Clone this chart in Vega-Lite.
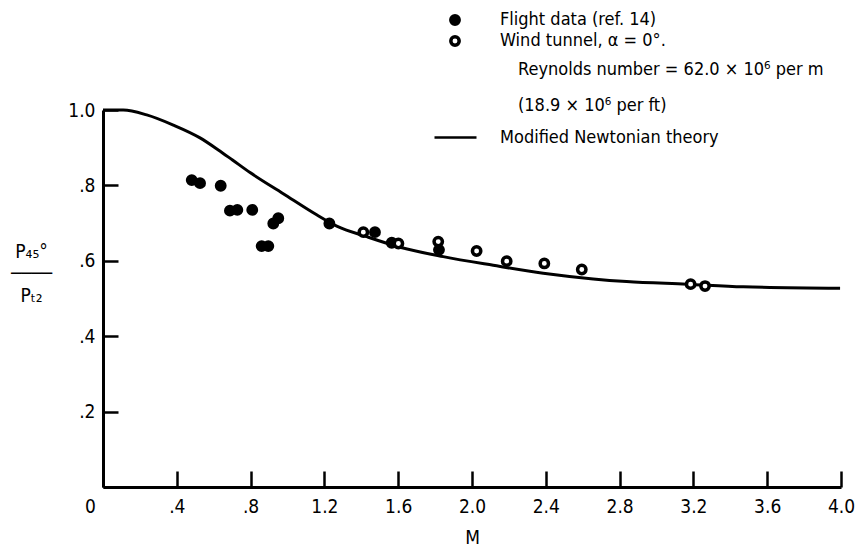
{
  "$schema": "https://vega.github.io/schema/vega-lite/v6.json",
  "width": 738,
  "height": 377,
  "autosize": {"type": "none"},
  "padding": {"left": 103, "top": 110, "right": 21, "bottom": 60},
  "background": "white",
  "title": {
    "text": ["Reynolds number = 62.0 × 10⁶ per m", "(18.9 × 10⁶ per ft)"],
    "anchor": "start",
    "frame": "group",
    "orient": "top",
    "align": "left",
    "baseline": "top",
    "offset": 0,
    "dx": 415,
    "dy": 104,
    "lineHeight": 36,
    "fontSize": 18,
    "fontWeight": "normal",
    "color": "black",
    "font": "Liberation Sans Narrow, DejaVu Sans Condensed, sans-serif"
  },
  "config": {
    "view": {"stroke": null},
    "font": "Liberation Sans Narrow, DejaVu Sans Condensed, sans-serif",
    "axis": {"grid": false, "domainColor": "black", "domainWidth": 3, "tickColor": "black", "tickWidth": 2.5, "labelColor": "black", "titleColor": "black", "labelFontSize": 19, "titleFontSize": 19, "titleFontWeight": "normal", "labelFont": "Liberation Sans Narrow, DejaVu Sans Condensed, sans-serif", "titleFont": "Liberation Sans Narrow, DejaVu Sans Condensed, sans-serif"},
    "legend": {"labelFontSize": 18, "labelColor": "black", "labelFont": "Liberation Sans Narrow, DejaVu Sans Condensed, sans-serif", "labelLimit": 0}
  },
  "datasets": {
    "points": [
      {"M": 0.481, "P": 0.814, "dataset": "Flight data (ref. 14)"},
      {"M": 0.526, "P": 0.806, "dataset": "Flight data (ref. 14)"},
      {"M": 0.638, "P": 0.799, "dataset": "Flight data (ref. 14)"},
      {"M": 0.688, "P": 0.733, "dataset": "Flight data (ref. 14)"},
      {"M": 0.728, "P": 0.735, "dataset": "Flight data (ref. 14)"},
      {"M": 0.809, "P": 0.735, "dataset": "Flight data (ref. 14)"},
      {"M": 0.860, "P": 0.639, "dataset": "Flight data (ref. 14)"},
      {"M": 0.896, "P": 0.639, "dataset": "Flight data (ref. 14)"},
      {"M": 0.923, "P": 0.699, "dataset": "Flight data (ref. 14)"},
      {"M": 0.950, "P": 0.713, "dataset": "Flight data (ref. 14)"},
      {"M": 1.227, "P": 0.699, "dataset": "Flight data (ref. 14)"},
      {"M": 1.474, "P": 0.676, "dataset": "Flight data (ref. 14)"},
      {"M": 1.565, "P": 0.648, "dataset": "Flight data (ref. 14)"},
      {"M": 1.821, "P": 0.629, "dataset": "Flight data (ref. 14)"},
      {"M": 1.411, "P": 0.676, "dataset": "Wind tunnel,  α = 0°."},
      {"M": 1.601, "P": 0.646, "dataset": "Wind tunnel,  α = 0°."},
      {"M": 1.817, "P": 0.651, "dataset": "Wind tunnel,  α = 0°."},
      {"M": 2.025, "P": 0.626, "dataset": "Wind tunnel,  α = 0°."},
      {"M": 2.188, "P": 0.599, "dataset": "Wind tunnel,  α = 0°."},
      {"M": 2.392, "P": 0.593, "dataset": "Wind tunnel,  α = 0°."},
      {"M": 2.595, "P": 0.577, "dataset": "Wind tunnel,  α = 0°."},
      {"M": 3.185, "P": 0.538, "dataset": "Wind tunnel,  α = 0°."},
      {"M": 3.263, "P": 0.533, "dataset": "Wind tunnel,  α = 0°."}
    ],
    "curve": [
      {"M": 0.0, "P": 1.0, "theory": "Modified Newtonian theory"},
      {"M": 0.110, "P": 1.0, "theory": "Modified Newtonian theory"},
      {"M": 0.237, "P": 0.987, "theory": "Modified Newtonian theory"},
      {"M": 0.381, "P": 0.960, "theory": "Modified Newtonian theory"},
      {"M": 0.526, "P": 0.926, "theory": "Modified Newtonian theory"},
      {"M": 0.625, "P": 0.894, "theory": "Modified Newtonian theory"},
      {"M": 0.700, "P": 0.868, "theory": "Modified Newtonian theory"},
      {"M": 0.797, "P": 0.834, "theory": "Modified Newtonian theory"},
      {"M": 0.977, "P": 0.778, "theory": "Modified Newtonian theory"},
      {"M": 1.158, "P": 0.722, "theory": "Modified Newtonian theory"},
      {"M": 1.267, "P": 0.692, "theory": "Modified Newtonian theory"},
      {"M": 1.429, "P": 0.664, "theory": "Modified Newtonian theory"},
      {"M": 1.610, "P": 0.636, "theory": "Modified Newtonian theory"},
      {"M": 1.844, "P": 0.611, "theory": "Modified Newtonian theory"},
      {"M": 2.115, "P": 0.588, "theory": "Modified Newtonian theory"},
      {"M": 2.386, "P": 0.567, "theory": "Modified Newtonian theory"},
      {"M": 2.657, "P": 0.552, "theory": "Modified Newtonian theory"},
      {"M": 2.838, "P": 0.545, "theory": "Modified Newtonian theory"},
      {"M": 3.164, "P": 0.538, "theory": "Modified Newtonian theory"},
      {"M": 3.470, "P": 0.531, "theory": "Modified Newtonian theory"},
      {"M": 3.995, "P": 0.527, "theory": "Modified Newtonian theory"}
    ]
  },
  "layer": [
    {
      "data": {"name": "curve"},
      "mark": {"type": "line", "color": "black", "strokeWidth": 3, "interpolate": "monotone"},
      "encoding": {
        "x": {
          "field": "M", "type": "quantitative",
          "scale": {"domain": [0, 4], "nice": false, "zero": false},
          "axis": {
            "title": "M",
            "values": [0, 0.4, 0.8, 1.2, 1.6, 2, 2.4, 2.8, 3.2, 3.6, 4],
            "labelExpr": "datum.value === 0 ? '0' : (datum.value < 1 ? replace(format(datum.value, '.1f'), '0.', '.') : format(datum.value, '.1f'))",
            "tickSize": -16,
            "labelPadding": 26,
            "labelFlush": false,
            "labelOffset": {"condition": {"test": "datum.value === 0", "value": -13}, "value": 0},
            "titleY": 50,
            "titleBaseline": "middle"
          }
        },
        "y": {
          "field": "P", "type": "quantitative",
          "scale": {"domain": [0, 1], "nice": false, "zero": false},
          "axis": {
            "title": ["P₄₅°", "────", "Pₜ₂"],
            "titleAngle": 0,
            "titleAlign": "center",
            "titleBaseline": "middle",
            "titleLineHeight": 22,
            "titleX": -72,
            "titleY": 141,
            "values": [0, 0.2, 0.4, 0.6, 0.8, 1],
            "labelExpr": "datum.value === 0 ? '' : (datum.value < 1 ? replace(format(datum.value, '.1f'), '0.', '.') : format(datum.value, '.1f'))",
            "tickSize": -15,
            "labelPadding": 23,
            "labelFlush": false
          }
        },
        "color": {
          "field": "theory", "type": "nominal",
          "scale": {"range": ["black"]},
          "legend": {
            "title": null,
            "orient": "none",
            "legendX": 330,
            "legendY": 5,
            "symbolType": "stroke",
            "symbolSize": 1764,
            "symbolStrokeWidth": 2.5,
            "labelOffset": 22
          }
        }
      }
    },
    {
      "data": {"name": "points"},
      "mark": {"type": "point", "shape": "circle", "filled": true, "size": 70, "opacity": 1},
      "encoding": {
        "x": {"field": "M", "type": "quantitative"},
        "y": {"field": "P", "type": "quantitative"},
        "stroke": {"value": "black"},
        "strokeWidth": {"value": 3.5},
        "fill": {
          "field": "dataset", "type": "nominal",
          "scale": {"domain": ["Flight data (ref. 14)", "Wind tunnel,  α = 0°."], "range": ["black", "white"]},
          "legend": {
            "title": null,
            "orient": "none",
            "legendX": 343,
            "legendY": -99,
            "symbolType": "circle",
            "symbolSize": 70,
            "symbolStrokeColor": "black",
            "symbolStrokeWidth": 3.5,
            "labelOffset": 36,
            "rowPadding": -7,
            "encode": {
              "symbols": {"update": {"stroke": {"value": "black"}, "strokeWidth": {"value": 3.5}}}
            }
          }
        }
      }
    }
  ]
}
